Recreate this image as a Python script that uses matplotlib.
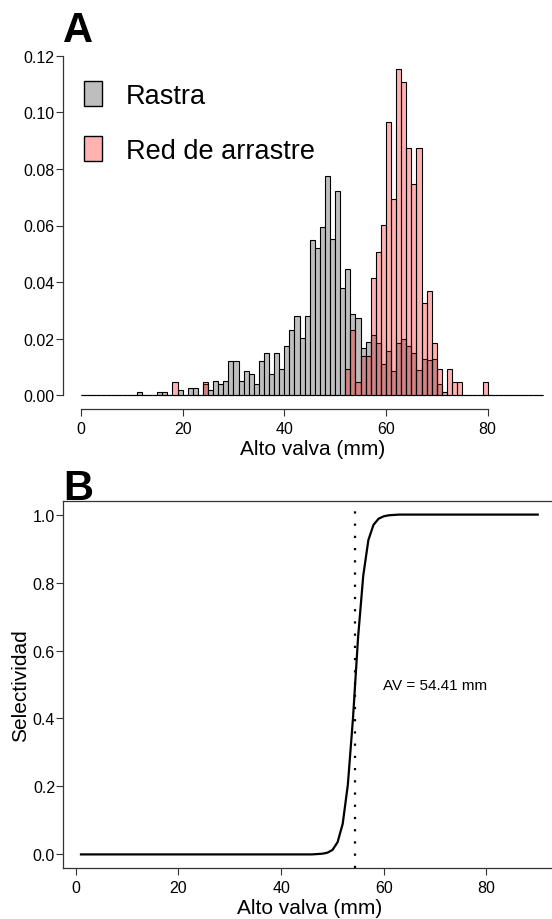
import matplotlib
matplotlib.use("Agg")
import matplotlib.pyplot as plt
from matplotlib.patches import Patch

plt.rcParams['font.family'] = ['Liberation Sans', 'DejaVu Sans']

# histogram bins of 1 mm, left edges 0..90
bin_left = list(range(0, 91))

# density per bin, index = bin left edge
rastra = [0.0] * 91
red = [0.0] * 91
rastra_vals = {11: 0.0013, 15: 0.0013, 16: 0.0013, 19: 0.0018, 21: 0.0026, 22: 0.0026,
               24: 0.0039, 25: 0.0018, 26: 0.0052, 27: 0.0039, 28: 0.0052, 29: 0.0122,
               30: 0.0122, 31: 0.0052, 32: 0.0087, 33: 0.0075, 34: 0.0039, 35: 0.0122,
               36: 0.0148, 37: 0.0075, 38: 0.0148, 39: 0.0095, 40: 0.0174, 41: 0.0230,
               42: 0.0282, 43: 0.0204, 44: 0.0282, 45: 0.0548, 46: 0.0519, 47: 0.0595,
               48: 0.0775, 49: 0.0551, 50: 0.0721, 51: 0.0378, 52: 0.0448, 53: 0.0289,
               54: 0.0274, 55: 0.0168, 56: 0.0190, 57: 0.0213, 58: 0.0186, 59: 0.0110,
               60: 0.0157, 61: 0.0085, 62: 0.0186, 63: 0.0200, 64: 0.0176, 65: 0.0148,
               66: 0.0090, 67: 0.0130, 68: 0.0125, 69: 0.0130, 70: 0.0039, 71: 0.0013}
red_vals = {18: 0.0046, 24: 0.0046, 52: 0.0093, 53: 0.0230, 54: 0.0046, 55: 0.0139,
            56: 0.0139, 57: 0.0416, 58: 0.0508, 59: 0.0601, 60: 0.0966, 61: 0.0693,
            62: 0.1154, 63: 0.1108, 64: 0.0875, 65: 0.0745, 66: 0.0875, 67: 0.0325,
            68: 0.0370, 69: 0.0186, 70: 0.0093, 72: 0.0093, 73: 0.0046, 74: 0.0046,
            79: 0.0046}
for k, v in rastra_vals.items():
    rastra[k] = v
for k, v in red_vals.items():
    red[k] = v

# selectivity curve, lengths 1..90 mm
sel_len = list(range(1, 91))
selectividad = ([0.0] * 46 +
                [0.001, 0.002, 0.005, 0.013, 0.036, 0.09, 0.205, 0.40,
                 0.64, 0.82, 0.925, 0.97, 0.988, 0.995, 0.998, 0.999] +
                [1.0] * 28)
av50 = 54.41

W, H = 552, 920
fig = plt.figure(figsize=(W / 100, H / 100), dpi=100)

# ---- panel A
axA = fig.add_axes([62.5 / W, 1 - 410 / H, 499.5 / W, 367 / H])
axA.bar(bin_left, rastra, width=1, align='edge', color='#bebebe',
        edgecolor='black', linewidth=0.8)
axA.bar(bin_left, red, width=1, align='edge', color=(1, 0, 0, 0.3),
        edgecolor='black', linewidth=0.8)
axA.set_xlim(-3.64, 94.64)
axA.set_ylim(-0.0048, 0.1248)
for s in ['top', 'right']:
    axA.spines[s].set_visible(False)
axA.spines['left'].set_bounds(0, 0.12)
axA.spines['bottom'].set_bounds(0, 80)
axA.set_xticks([0, 20, 40, 60, 80])
axA.set_yticks([0, 0.02, 0.04, 0.06, 0.08, 0.10, 0.12])
axA.set_yticklabels(['0.00', '0.02', '0.04', '0.06', '0.08', '0.10', '0.12'])
axA.set_xlabel('Alto valva (mm)', fontsize=15, labelpad=2)
handles = [Patch(facecolor='#bebebe', edgecolor='black', label='Rastra'),
           Patch(facecolor=(1, 0, 0, 0.3), edgecolor='black', label='Red de arrastre')]
axA.legend(handles=handles, loc='upper left', bbox_to_anchor=(84 / W, 1 - 82 / H),
           bbox_transform=fig.transFigure, frameon=False, fontsize=19.5,
           handlelength=0.65, handleheight=1.05, handletextpad=0.9,
           labelspacing=1.0, borderpad=0, borderaxespad=0)

# ---- panel B
axB = fig.add_axes([62.7 / W, 1 - 869 / H, 493.3 / W, 367 / H])
axB.plot(sel_len, selectividad, color='black', linewidth=1.6)
axB.axvline(av50, color='black', linewidth=1.6, linestyle=(0, (1, 4.5)))
axB.text(70, 0.5, 'AV = %.2f mm' % av50, fontsize=11, ha='center', va='center')
axB.set_xlim(-2.56, 93.56)
axB.set_ylim(-0.04, 1.04)
axB.set_xticks([0, 20, 40, 60, 80])
axB.set_yticks([0, 0.2, 0.4, 0.6, 0.8, 1.0])
axB.set_yticklabels(['0.0', '0.2', '0.4', '0.6', '0.8', '1.0'])
axB.set_xlabel('Alto valva (mm)', fontsize=15, labelpad=2)
axB.set_ylabel('Selectividad', fontsize=15)
axB.yaxis.set_label_coords((30 - 62.7) / 493.3, 0.5)

for ax in (axA, axB):
    for s in ax.spines.values():
        s.set_color('#333333')
        s.set_linewidth(0.9)
    ax.tick_params(direction='out', length=5, width=0.8, color='#333333',
                   labelsize=11.5)
    ax.tick_params(axis='y', pad=0.5)
    ax.tick_params(axis='x', pad=4)

fig.text(63 / W, 1 - 42 / H, 'A', fontsize=30, fontweight='bold', ha='left', va='baseline')
fig.text(63 / W, 1 - 500 / H, 'B', fontsize=30, fontweight='bold', ha='left', va='baseline')

fig.savefig('out.png', dpi=100)
